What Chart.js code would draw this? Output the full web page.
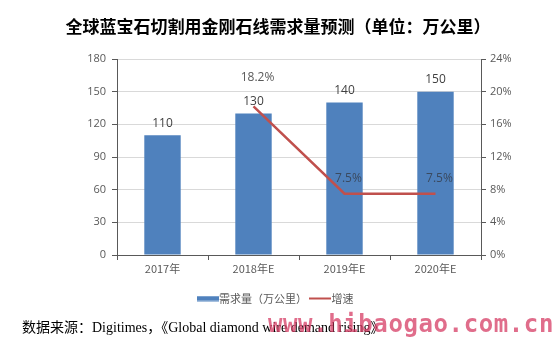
<!DOCTYPE html>
<html>
<head>
<meta charset="utf-8">
<script src="https://cdn.jsdelivr.net/npm/chart.js@4.4.1/dist/chart.umd.min.js"></script>
<style>
  body { margin: 0; background: #fff; }
  #wrap { position: relative; width: 556px; height: 354px; overflow: hidden; }
  #title { position: absolute; left: 0; width: 556px; top: 13px; text-align: center;
    font: bold 17px "Noto Sans CJK SC", sans-serif; color: #000; }
  #chart { position: absolute; left: 0; top: 0; }
  #source { position: absolute; left: 22px; top: 316px; font: 14px "Liberation Serif", "Noto Sans CJK SC", serif; color: #000; white-space: nowrap; }
  #mark { position: absolute; left: 268px; top: 310px; font: bold 24px "DejaVu Sans Mono", monospace;
    color: rgba(214, 60, 100, 0.75); letter-spacing: 0.6px; white-space: nowrap; }
</style>
</head>
<body>
<div id="wrap">
  <canvas id="chart" width="556" height="354"></canvas>
  <div id="title">全球蓝宝石切割用金刚石线需求量预测（单位：万公里）</div>
  <div id="source">数据来源：Digitimes，《Global diamond wire demand rising》</div>
  <div id="mark">www.hibaogao.com.cn</div>
</div>
<script>
const categories = ['2017年', '2018年E', '2019年E', '2020年E'];
const demand = [110, 130, 140, 150];
const growth = [null, 18.2, 7.5, 7.5];
const leftTicks = [0, 30, 60, 90, 120, 150, 180];
const rightTicks = [0, 4, 8, 12, 16, 20, 24];

const BLUE = '#4F81BD';
const RED = '#C0504D';
const GRAY = '#595959';

const swatch = (color, h) => {
  const c = document.createElement('canvas');
  c.width = 22; c.height = 6;
  const g = c.getContext('2d');
  g.fillStyle = color;
  g.fillRect(0, (6 - h) / 2, 22, h);
  return c;
};

// value labels above bars and line points
const valueLabels = {
  id: 'valueLabels',
  afterDatasetsDraw(chart) {
    const ctx = chart.ctx;
    ctx.save();
    ctx.textAlign = 'center';
    ctx.textBaseline = 'middle';
    ctx.font = '12px "Open Sans", sans-serif';
    chart.getDatasetMeta(0).data.forEach((bar, i) => {
      ctx.fillStyle = '#404040';
      ctx.fillText(demand[i], bar.x, bar.y - 12);
    });
    chart.getDatasetMeta(1).data.forEach((pt, i) => {
      if (growth[i] == null) return;
      const up = i === 1 ? 29 : 15;
      ctx.fillStyle = i === 1 ? GRAY : '#3a4a60';
      ctx.fillText(growth[i].toFixed(1) + '%', pt.x + 4, pt.y - up);
    });
    ctx.restore();
  }
};

new Chart(document.getElementById('chart'), {
  data: {
    labels: categories,
    datasets: [
      {
        type: 'bar',
        label: '需求量（万公里）',
        data: demand,
        backgroundColor: BLUE,
        yAxisID: 'y',
        barPercentage: 0.4,
        categoryPercentage: 1,
        order: 2
      },
      {
        type: 'line',
        label: '增速',
        data: growth,
        borderColor: RED,
        backgroundColor: RED,
        borderWidth: 2.5,
        pointRadius: 0,
        yAxisID: 'y1',
        order: 1
      }
    ]
  },
  options: {
    responsive: false,
    animation: false,
    layout: { padding: { top: 59, left: 0, right: 0, bottom: 40 } },
    plugins: {
      tooltip: { enabled: false },
      legend: {
        position: 'bottom',
        labels: {
          font: { size: 11, family: '"Noto Sans CJK SC", sans-serif' },
          color: GRAY,
          usePointStyle: true,
          boxWidth: 22,
          boxHeight: 6,
          padding: 8,
          generateLabels: chart => chart.data.datasets.map((ds, i) => ({
            text: ds.label,
            pointStyle: i === 0 ? swatch(BLUE, 5) : swatch(RED, 2),
            fontColor: GRAY,
            datasetIndex: i,
            lineWidth: 0
          }))
        }
      }
    },
    scales: {
      x: {
        grid: { drawOnChartArea: false, offset: true, color: GRAY, tickLength: 5 },
        border: { color: GRAY },
        ticks: { color: GRAY, font: { size: 11, family: '"Noto Sans CJK SC", sans-serif' }, padding: 2 },
        afterFit: s => { s.height = 30; }
      },
      y: {
        position: 'left',
        min: 0, max: 180,
        afterBuildTicks: s => { s.ticks = leftTicks.map(v => ({ value: v })); },
        grid: { color: '#d9d9d9', tickColor: GRAY, tickLength: 5 },
        border: { color: GRAY },
        ticks: { color: GRAY, font: { size: 11, family: '"Open Sans", sans-serif' }, padding: 6 },
        afterFit: s => { s.width = 117; }
      },
      y1: {
        position: 'right',
        min: 0, max: 24,
        afterBuildTicks: s => { s.ticks = rightTicks.map(v => ({ value: v })); },
        grid: { drawOnChartArea: false, tickColor: GRAY, tickLength: 5 },
        border: { color: GRAY },
        ticks: { color: GRAY, font: { size: 11, family: '"Open Sans", sans-serif' }, padding: 4, callback: v => v + '%' },
        afterFit: s => { s.width = 75; }
      }
    }
  },
  plugins: [valueLabels]
});
</script>
</body>
</html>
